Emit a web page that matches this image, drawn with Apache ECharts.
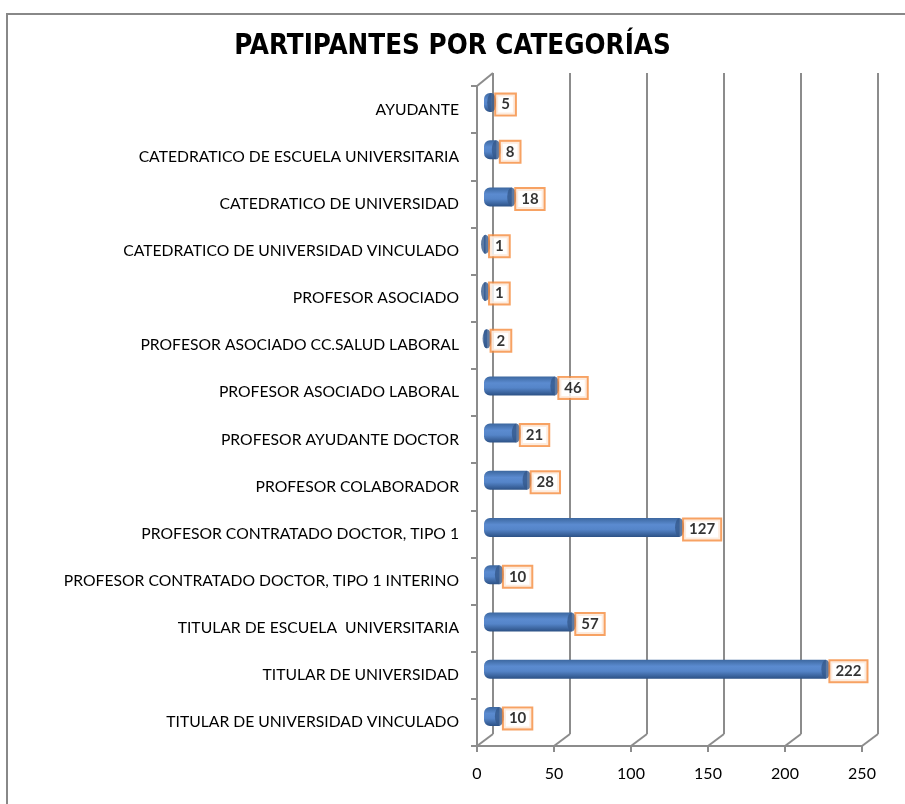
<!DOCTYPE html>
<html>
<head>
<meta charset="utf-8">
<script src="https://cdn.jsdelivr.net/npm/echarts@6/dist/echarts.min.js"></script>
<style>
html,body{margin:0;padding:0;background:#fff;}
#main{width:905px;height:804px;}
</style>
</head>
<body>
<div id="main"></div>
<script>
// categorias (de arriba a abajo)
var categorias = [
	'AYUDANTE',
	'CATEDRATICO DE ESCUELA UNIVERSITARIA',
	'CATEDRATICO DE UNIVERSIDAD',
	'CATEDRATICO DE UNIVERSIDAD VINCULADO',
	'PROFESOR ASOCIADO',
	'PROFESOR ASOCIADO CC.SALUD LABORAL',
	'PROFESOR ASOCIADO LABORAL',
	'PROFESOR AYUDANTE DOCTOR',
	'PROFESOR COLABORADOR',
	'PROFESOR CONTRATADO DOCTOR, TIPO 1',
	'PROFESOR CONTRATADO DOCTOR, TIPO 1 INTERINO',
	'TITULAR DE ESCUELA  UNIVERSITARIA',
	'TITULAR DE UNIVERSIDAD',
	'TITULAR DE UNIVERSIDAD VINCULADO'
];
var participantes = [5, 8, 18, 1, 1, 2, 46, 21, 28, 127, 10, 57, 222, 10];
var ejeMin = 0, ejeMax = 250, ejeIntervalo = 50;

var fuenteTitulo = '"DejaVu Sans Condensed", "Liberation Sans Narrow", sans-serif';
var gris = '#8c8c8c';

var chartDom = document.getElementById('main');
var myChart = echarts.init(chartDom);

var option = {
	animation: false,
	title: {
		text: 'PARTIPANTES POR CATEGORÍAS',
		left: 'center',
		top: 28,
		textStyle: {fontFamily: fuenteTitulo, fontSize: 27.5, fontWeight: 'bold', color: '#000'}
	},
	grid: [
		// pared del fondo
		{left: 493, top: 73, width: 385, height: 661},
		// eje frontal
		{left: 477, top: 86, width: 385, height: 660},
		// barras
		{left: 484, top: 79, width: 385, height: 661}
	],
	xAxis: [
		{gridIndex: 0, type: 'value', min: ejeMin, max: ejeMax, interval: ejeIntervalo,
			axisLine: {show: false}, axisTick: {show: false}, axisLabel: {show: false},
			splitLine: {show: true, lineStyle: {color: gris, width: 2}}},
		{gridIndex: 1, type: 'value', min: ejeMin, max: ejeMax, interval: ejeIntervalo,
			axisLine: {show: true, lineStyle: {color: gris, width: 2}},
			axisTick: {show: true, length: 6, lineStyle: {color: gris, width: 2}},
			axisLabel: {color: '#000', fontFamily: 'Lato, sans-serif', fontSize: 16, margin: 20},
			splitLine: {show: false}},
		{gridIndex: 2, type: 'value', min: ejeMin, max: ejeMax, show: false, splitLine: {show: false}}
	],
	yAxis: [
		{gridIndex: 0, type: 'category', inverse: true, data: categorias, show: false},
		{gridIndex: 1, type: 'category', inverse: true, data: categorias,
			axisLine: {show: true, lineStyle: {color: gris, width: 2}},
			axisTick: {show: true, length: 6, lineStyle: {color: gris, width: 2}},
			axisLabel: {color: '#000', fontFamily: 'Lato, sans-serif', fontSize: 15.7, margin: 18}},
		{gridIndex: 2, type: 'category', inverse: true, data: categorias, show: false}
	],
	series: [
		{
			type: 'bar',
			xAxisIndex: 2, yAxisIndex: 2,
			data: participantes,
			barWidth: 19,
			itemStyle: {
				borderRadius: [6, 0, 0, 6],
				color: new echarts.graphic.LinearGradient(0, 0, 0, 1, [
					{offset: 0, color: '#3c679f'},
					{offset: 0.35, color: '#5b8bd0'},
					{offset: 0.6, color: '#5585c9'},
					{offset: 1, color: '#2c5185'}
				])
			}
		},
		{
			// tapa del cilindro + etiqueta
			type: 'scatter',
			xAxisIndex: 2, yAxisIndex: 2,
			data: participantes.map(function(v, i){ return [v, categorias[i]]; }),
			symbol: 'circle',
			symbolSize: [9, 19],
			itemStyle: {color: '#35598c'},
			z: 3,
			label: {
				show: true,
				position: 'right',
				distance: 0,
				offset: [0, 2],
				formatter: function(p){ return p.value[0]; },
				color: '#000',
				fontFamily: 'Lato, sans-serif',
				fontWeight: 'bold',
				fontSize: 15,
				lineHeight: 17,
				backgroundColor: '#fff',
				borderColor: '#f58b3c',
				borderWidth: 2,
				padding: [2, 5, 1, 5]
			}
		}
	]
};
myChart.setOption(option);

// lineas de profundidad (suelo y pared lateral)
function lineasProfundidad(){
	var elementos = [];
	var lst = {stroke: gris, lineWidth: 2};
	var frontBottom = 86 + 660, backBottom = 73 + 661;
	for (var v = ejeMin; v <= ejeMax; v += ejeIntervalo) {
		var xf = myChart.convertToPixel({xAxisIndex: 1}, v);
		var xb = myChart.convertToPixel({xAxisIndex: 0}, v);
		elementos.push({type: 'line', shape: {x1: xf, y1: frontBottom, x2: xb, y2: backBottom}, style: lst, silent: true});
	}
	var xf0 = myChart.convertToPixel({xAxisIndex: 1}, ejeMin);
	var xb0 = myChart.convertToPixel({xAxisIndex: 0}, ejeMin);
	elementos.push({type: 'line', shape: {x1: xf0, y1: 86, x2: xb0, y2: 73}, style: lst, silent: true});
	elementos.push({type: 'line', shape: {x1: xf0 - 6, y1: 86, x2: xf0, y2: 86}, style: lst, silent: true});
	// marco del grafico
	elementos.push({type: 'polyline', shape: {points: [[7, 830], [7, 14], [930, 14]]}, style: {stroke: '#888', lineWidth: 2, fill: null}, silent: true});
	myChart.setOption({graphic: elementos});
}
lineasProfundidad();
</script>
</body>
</html>
